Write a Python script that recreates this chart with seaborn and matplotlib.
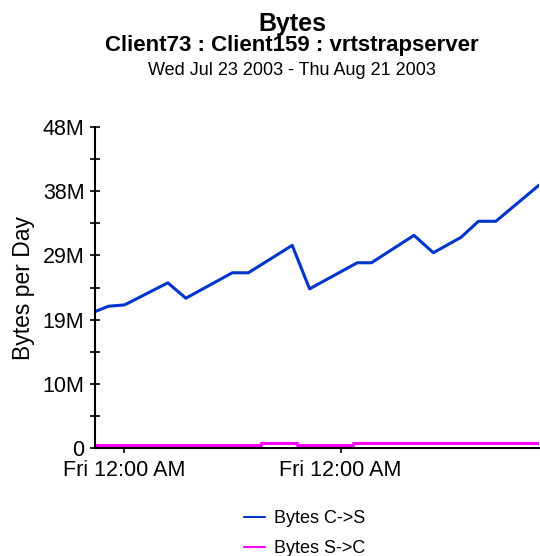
import matplotlib
matplotlib.use("Agg")
import matplotlib.pyplot as plt
import matplotlib.dates as mdates
from matplotlib.ticker import FixedLocator, FixedFormatter
import seaborn as sns
import pandas as pd

# ---- data ----
cs_times = ["2003-07-24 01:30", "2003-07-24 12:00", "2003-07-25 00:30", "2003-07-26 10:00",
            "2003-07-27 00:00", "2003-07-28 12:00", "2003-07-29 00:30", "2003-07-30 10:30",
            "2003-07-31 00:00", "2003-08-01 13:00", "2003-08-02 00:00", "2003-08-03 09:00",
            "2003-08-04 00:00", "2003-08-04 21:30", "2003-08-05 11:00", "2003-08-06 00:30",
            "2003-08-07 10:00"]
cs_values = [20.4e6, 21.2e6, 21.4e6, 24.7e6, 22.4e6, 26.2e6, 26.2e6, 30.3e6,
             23.8e6, 27.7e6, 27.7e6, 31.8e6, 29.2e6, 31.5e6, 33.9e6, 33.9e6, 39.3e6]

sc_times = ["2003-07-24 01:30", "2003-07-29 10:00", "2003-07-30 14:30",
            "2003-08-01 09:30", "2003-08-07 10:00"]
sc_values = [0.45e6, 0.75e6, 0.4e6, 0.8e6, 0.8e6]

y_ticks = [0, 9.6e6, 19.2e6, 28.8e6, 38.4e6, 48e6]
y_labels = ["0", "10M", "19M", "29M", "38M", "48M"]
y_minor = [4.8e6, 14.4e6, 24e6, 33.6e6, 43.2e6]

series_names = ["Bytes C->S", "Bytes S->C"]
colors = ["#0035CC", "#FF00FF"]

df_cs = pd.DataFrame({"time": pd.to_datetime(cs_times), "value": cs_values})
df_sc = pd.DataFrame({"time": pd.to_datetime(sc_times), "value": sc_values})

sns.set_style("white")
plt.rcParams["font.family"] = ["Liberation Sans", "DejaVu Sans"]
plt.rcParams["text.color"] = "black"
plt.rcParams["axes.labelcolor"] = "black"

fig = plt.figure(figsize=(5.4, 5.56), dpi=100)
ax = fig.add_axes([95 / 540, 1 - 448 / 556, (539 - 95) / 540, (448 - 127) / 556])

sns.lineplot(data=df_cs, x="time", y="value", ax=ax, color=colors[0], linewidth=2.2,
             label=series_names[0])
sns.lineplot(data=df_sc, x="time", y="value", ax=ax, color=colors[1], linewidth=2.2,
             drawstyle="steps-post", label=series_names[1])

ax.set_xlim(df_cs["time"].iloc[0], df_cs["time"].iloc[-1])
ax.set_ylim(0, 48e6)

ax.yaxis.set_major_locator(FixedLocator(y_ticks))
ax.yaxis.set_major_formatter(FixedFormatter(y_labels))
ax.yaxis.set_minor_locator(FixedLocator(y_minor))
ax.xaxis.set_major_locator(mdates.WeekdayLocator(byweekday=mdates.FR))
ax.xaxis.set_major_formatter(mdates.DateFormatter("%a %I:%M %p"))

ax.tick_params(axis="y", which="both", left=True, direction="inout", length=7.2, width=1.2,
               labelsize=15.5, pad=4, colors="black")
ax.tick_params(axis="x", which="major", bottom=True, direction="out", length=3.5, width=1.2,
               labelsize=15.5, pad=5.5, colors="black")

for side in ["top", "right"]:
    ax.spines[side].set_visible(False)
for side in ["left", "bottom"]:
    ax.spines[side].set_color("black")
    ax.spines[side].set_linewidth(1.5)

ax.set_xlabel("")
ax.set_ylabel("Bytes per Day", fontsize=16.5, color="black")
ax.yaxis.set_label_coords((35 - 95) / 444, 0.5)

fig.text(292 / 540, 1 - 31 / 556, "Bytes", ha="center", va="baseline",
         fontsize=18, fontweight="bold", color="black")
fig.text(292 / 540, 1 - 51 / 556, "Client73 : Client159 : vrtstrapserver", ha="center",
         va="baseline", fontsize=16, fontweight="bold", color="black")
fig.text(292 / 540, 1 - 75 / 556, "Wed Jul 23 2003 - Thu Aug 21 2003", ha="center",
         va="baseline", fontsize=13, color="black")

leg = ax.legend(loc="upper left", bbox_to_anchor=(228 / 540, 1 - 494 / 556),
                bbox_transform=fig.transFigure, frameon=False, fontsize=13,
                handlelength=1.15, handletextpad=0.5, labelspacing=0.7,
                labelcolor="black")
for line in leg.get_lines():
    line.set_linewidth(1.5)

fig.savefig("out.png", dpi=100)
